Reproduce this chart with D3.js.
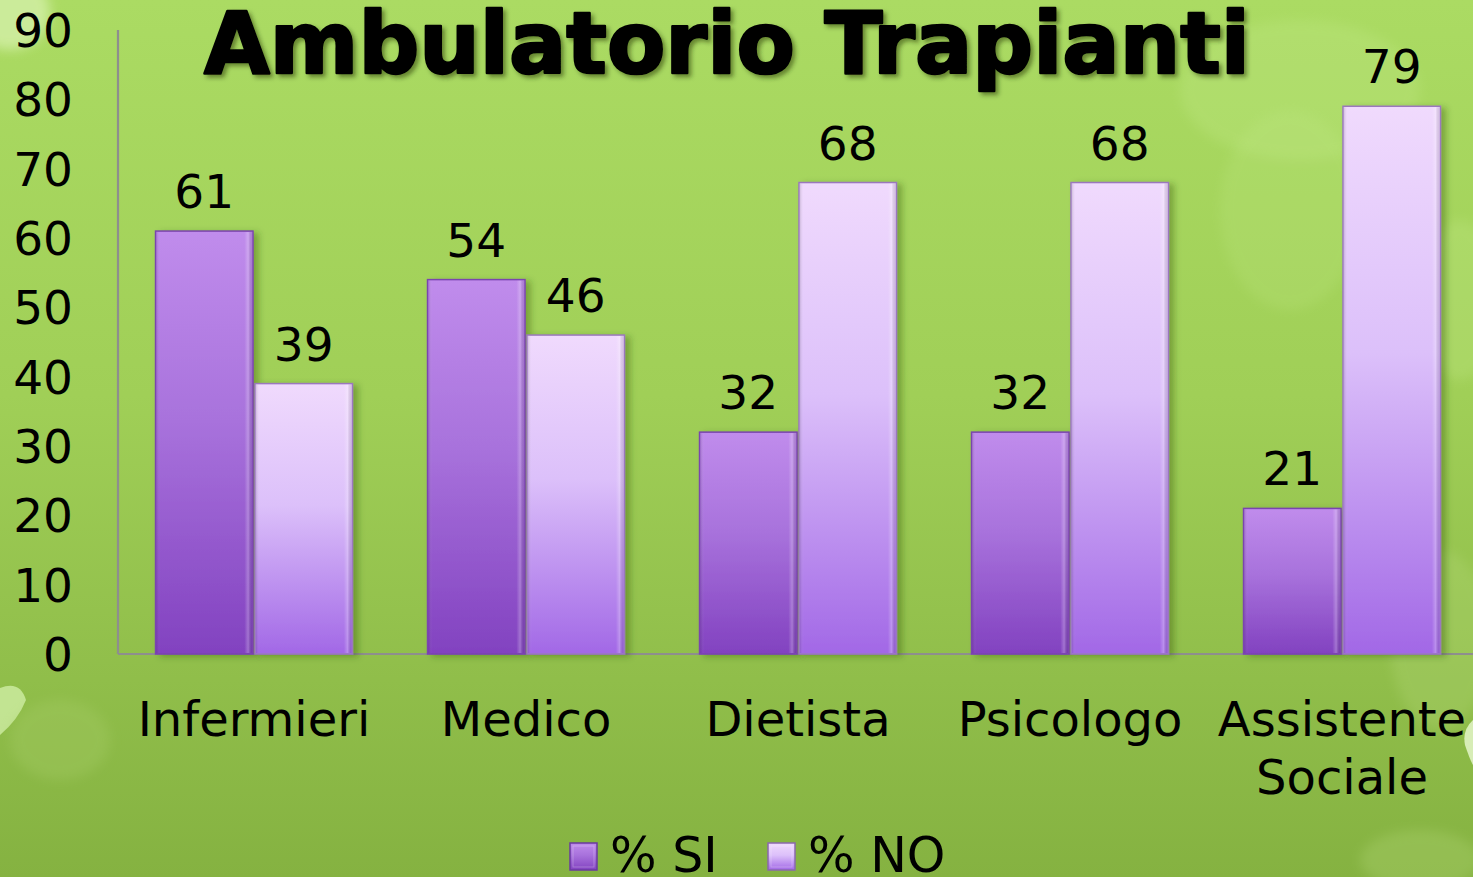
<!DOCTYPE html>
<html>
<head>
<meta charset="utf-8">
<script src="https://cdn.jsdelivr.net/npm/d3@7"></script>
<style>
  html, body { margin: 0; padding: 0; overflow: hidden; }
  svg { display: block; }
  text { font-family: "DejaVu Sans", Verdana, sans-serif; fill: #000; }
</style>
</head>
<body>
<svg id="chart" width="1473" height="877"></svg>
<script>
const categories = ["Infermieri", "Medico", "Dietista", "Psicologo", "Assistente Sociale"];
const seriesNames = ["% SI", "% NO"];
const valuesSI = [61, 54, 32, 32, 21];
const valuesNO = [39, 46, 68, 68, 79];
const yTicks = [0, 10, 20, 30, 40, 50, 60, 70, 80, 90];
const titleText = "Ambulatorio Trapianti";

const W = 1473, H = 877;
const svg = d3.select("#chart");
const defs = svg.append("defs");

// Background gradient
const bg = defs.append("linearGradient").attr("id", "bg").attr("x1", 0).attr("y1", 0).attr("x2", 0).attr("y2", 1);
bg.append("stop").attr("offset", "0%").attr("stop-color", "#abdb63");
bg.append("stop").attr("offset", "45%").attr("stop-color", "#a0cf57");
bg.append("stop").attr("offset", "100%").attr("stop-color", "#85b241");

// Bar gradients
const gSI = defs.append("linearGradient").attr("id", "gSI").attr("x1", 0).attr("y1", 0).attr("x2", 0).attr("y2", 1);
gSI.append("stop").attr("offset", "0%").attr("stop-color", "#c08cec");
gSI.append("stop").attr("offset", "45%").attr("stop-color", "#a872dc");
gSI.append("stop").attr("offset", "100%").attr("stop-color", "#8242c0");
const gNO = defs.append("linearGradient").attr("id", "gNO").attr("x1", 0).attr("y1", 0).attr("x2", 0).attr("y2", 1);
gNO.append("stop").attr("offset", "0%").attr("stop-color", "#f0dafd");
gNO.append("stop").attr("offset", "45%").attr("stop-color", "#dcc0fa");
gNO.append("stop").attr("offset", "100%").attr("stop-color", "#a268e6");

// Edge highlight gradient (horizontal bevel)
const gEdge = defs.append("linearGradient").attr("id", "gEdge").attr("x1", 0).attr("y1", 0).attr("x2", 1).attr("y2", 0);
gEdge.append("stop").attr("offset", "0%").attr("stop-color", "#000").attr("stop-opacity", 0.12);
gEdge.append("stop").attr("offset", "4%").attr("stop-color", "#fff").attr("stop-opacity", 0.0);
gEdge.append("stop").attr("offset", "92%").attr("stop-color", "#fff").attr("stop-opacity", 0.0);
gEdge.append("stop").attr("offset", "96%").attr("stop-color", "#fff").attr("stop-opacity", 0.25);
gEdge.append("stop").attr("offset", "100%").attr("stop-color", "#000").attr("stop-opacity", 0.1);

const shadow = defs.append("filter").attr("id", "barShadow").attr("x", "-20%").attr("y", "-10%").attr("width", "150%").attr("height", "130%");
shadow.append("feDropShadow").attr("dx", 5).attr("dy", 2).attr("stdDeviation", 3).attr("flood-color", "#2a4a00").attr("flood-opacity", 0.35);

const titleShadow = defs.append("filter").attr("id", "titleShadow").attr("x", "-5%").attr("y", "-20%").attr("width", "110%").attr("height", "150%");
titleShadow.append("feDropShadow").attr("dx", 3).attr("dy", 3).attr("stdDeviation", 2).attr("flood-color", "#1e3000").attr("flood-opacity", 0.5);

const blur = defs.append("filter").attr("id", "soft").attr("x", "-50%").attr("y", "-50%").attr("width", "200%").attr("height", "200%");
blur.append("feGaussianBlur").attr("stdDeviation", 6);

// Background
svg.append("rect").attr("width", W).attr("height", H).attr("fill", "url(#bg)");
const deco = svg.append("g");
deco.append("ellipse").attr("cx", 10).attr("cy", 12).attr("rx", 40).attr("ry", 38).attr("fill", "#d4f0a8").attr("opacity", 0.8).attr("filter", "url(#soft)");
deco.append("path").attr("d", "M0,688 Q20,680 26,700 Q18,720 0,735 Z").attr("fill", "#c8e89a").attr("opacity", 0.9);
deco.append("path").attr("d", "M1473,720 Q1462,730 1465,745 Q1470,760 1473,765 Z").attr("fill", "#dff3c2").attr("opacity", 0.9);
deco.append("ellipse").attr("cx", 1300).attr("cy", 90).attr("rx", 120).attr("ry", 70).attr("fill", "#c6ec8e").attr("opacity", 0.25).attr("filter", "url(#soft)");
deco.append("ellipse").attr("cx", 1290).attr("cy", 210).attr("rx", 70).attr("ry", 100).attr("fill", "#c6ec8e").attr("opacity", 0.18).attr("filter", "url(#soft)");
deco.append("ellipse").attr("cx", 1460).attr("cy", 300).attr("rx", 40).attr("ry", 80).attr("fill", "#c6ec8e").attr("opacity", 0.25).attr("filter", "url(#soft)");
deco.append("ellipse").attr("cx", 1440).attr("cy", 640).attr("rx", 50).attr("ry", 90).attr("fill", "#b4d878").attr("opacity", 0.3).attr("filter", "url(#soft)");
deco.append("ellipse").attr("cx", 1420).attr("cy", 860).attr("rx", 60).attr("ry", 30).attr("fill", "#b4d878").attr("opacity", 0.3).attr("filter", "url(#soft)");
deco.append("ellipse").attr("cx", 60).attr("cy", 740).attr("rx", 50).attr("ry", 40).attr("fill", "#a6cc66").attr("opacity", 0.35).attr("filter", "url(#soft)");

// Scales
const x0 = d3.scaleBand().domain(categories).range([118, 1478]).paddingInner(0.276).paddingOuter(0.138);
const x1 = d3.scaleBand().domain(seriesNames).range([0, x0.bandwidth()]).paddingInner(0.02);
const y = d3.scaleLinear().domain([0, 90]).range([654, 30]);

// Axes lines
const axisColor = "#8e8e8e";
svg.append("line").attr("x1", 118).attr("x2", 118).attr("y1", y(90)).attr("y2", y(0)).attr("stroke", axisColor).attr("stroke-width", 2.2);
svg.append("line").attr("x1", 118).attr("x2", W).attr("y1", y(0)).attr("y2", y(0)).attr("stroke", axisColor).attr("stroke-width", 2.2);

// Y tick labels via d3 axis
const yAxis = d3.axisLeft(y).tickValues(yTicks).tickSize(0).tickPadding(0).tickFormat(d3.format("d"));
const yG = svg.append("g").attr("transform", "translate(73,0)").call(yAxis);
yG.select(".domain").remove();
yG.selectAll("text").attr("font-family", "DejaVu Sans, Verdana, sans-serif").attr("font-size", 47).attr("fill", "#000").attr("dy", "0.35em");

// Title
svg.append("text").attr("x", 727).attr("y", 73).attr("text-anchor", "middle")
  .attr("font-size", 86).attr("font-weight", "bold")
  .attr("stroke", "#000").attr("stroke-width", 2.5).attr("stroke-linejoin", "round")
  .attr("textLength", 1046).attr("lengthAdjust", "spacingAndGlyphs")
  .attr("filter", "url(#titleShadow)")
  .text(titleText);

// Bars
const data = categories.map((c, i) => ({ cat: c, vals: [
  { key: seriesNames[0], v: valuesSI[i], fill: "url(#gSI)", stroke: "#7a44ae" },
  { key: seriesNames[1], v: valuesNO[i], fill: "url(#gNO)", stroke: "#9a78bc" }
]}));

const groups = svg.append("g").selectAll("g").data(data).join("g")
  .attr("transform", d => `translate(${x0(d.cat)},0)`);

const bars = groups.selectAll("g.bar").data(d => d.vals).join("g").attr("class", "bar");
bars.append("rect")
  .attr("x", d => x1(d.key)).attr("y", d => y(d.v))
  .attr("width", x1.bandwidth()).attr("height", d => y(0) - y(d.v))
  .attr("fill", d => d.fill).attr("stroke", d => d.stroke).attr("stroke-width", 1.5)
  .attr("filter", "url(#barShadow)");
bars.append("rect")
  .attr("x", d => x1(d.key) + 1).attr("y", d => y(d.v) + 1)
  .attr("width", x1.bandwidth() - 2).attr("height", d => y(0) - y(d.v) - 2)
  .attr("fill", "url(#gEdge)");
bars.append("text")
  .attr("x", d => x1(d.key) + x1.bandwidth() / 2).attr("y", d => y(d.v) - 23)
  .attr("text-anchor", "middle").attr("font-size", 47)
  .text(d => d.v);

// Category labels
const catG = svg.append("g");
categories.forEach(c => {
  const words = c.split(" ");
  const cx = x0(c) + x0.bandwidth() / 2;
  const t = catG.append("text").attr("x", cx).attr("y", 736).attr("text-anchor", "middle").attr("font-size", 48);
  if (c === "Assistente Sociale") {
    t.append("tspan").attr("x", cx).attr("dy", 0).text(words[0]);
    t.append("tspan").attr("x", cx).attr("dy", 58).text(words[1]);
  } else {
    t.text(c);
  }
});

// Legend
const legend = svg.append("g");
const legItems = [
  { name: seriesNames[0], fill: "url(#gSI)", stroke: "#6a3a9e", x: 570 },
  { name: seriesNames[1], fill: "url(#gNO)", stroke: "#8a68ac", x: 768 }
];
legItems.forEach(li => {
  legend.append("rect").attr("x", li.x).attr("y", 843).attr("width", 27).attr("height", 27)
    .attr("fill", li.fill).attr("stroke", li.stroke).attr("stroke-width", 1.5);
  legend.append("rect").attr("x", li.x + 3).attr("y", 846).attr("width", 21).attr("height", 21)
    .attr("fill", "none").attr("stroke", "#fff").attr("stroke-opacity", 0.25).attr("stroke-width", 1);
  legend.append("text").attr("x", li.x + 40).attr("y", 872).attr("font-size", 49).text(li.name);
});
</script>
</body>
</html>
